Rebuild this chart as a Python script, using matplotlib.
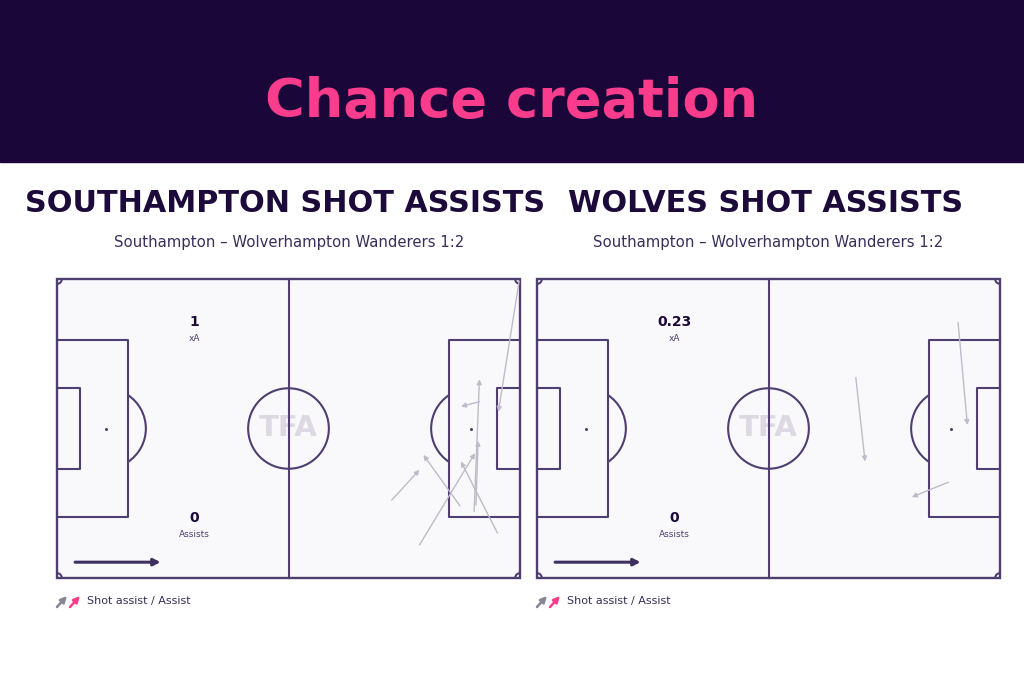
import numpy as np
import matplotlib.pyplot as plt
from matplotlib.patches import Rectangle, Arc, Circle, FancyArrowPatch

# Pass data (pitch metres, 105 x 68, attacking left -> right)
home_x0 = [104.8, 95.8, 94.6, 95.0, 82.2, 75.9, 91.4, 99.9]
home_y0 = [67.5, 40.1, 15.1, 16.6, 7.5, 17.7, 16.4, 10.2]
home_x1 = [100.1, 91.6, 95.8, 95.5, 94.8, 82.2, 83.1, 91.6]
home_y1 = [37.8, 39.0, 45.2, 31.2, 28.4, 24.6, 28.0, 26.5]

away_x0 = [72.3, 95.5, 93.3]
away_y0 = [45.6, 58.1, 21.8]
away_x1 = [74.4, 97.6, 85.0]
away_y1 = [26.5, 34.8, 18.4]

teams = ['SOUTHAMPTON SHOT ASSISTS', 'WOLVES SHOT ASSISTS']
match = 'Southampton – Wolverhampton Wanderers 1:2'
xa = ['1', '0.23']
assists = ['0', '0']

W, H = 1024, 683
dark = '#1b0639'
pink = '#f93d8c'
line_c = '#4e3f70'
pass_c = '#bfbbca'
txt = '#1c0a3a'

fig = plt.figure(figsize=(W / 100, H / 100), dpi=100)
fig.patch.set_facecolor('white')

# header band
fig.patches.append(Rectangle((0, (H - 162) / H), 1, 162 / H, transform=fig.transFigure,
                             color=dark, zorder=0))
fig.text(512 / W, 1 - 102 / H, 'Chance creation', color=pink, fontsize=39,
         fontweight='bold', ha='center', va='center')


def draw_pitch(ax):
    L, Wd = 105, 68
    lw = 1.5
    kw = dict(color=line_c, lw=lw, clip_on=False, zorder=2)
    ax.add_patch(Rectangle((0, 0), L, Wd, facecolor='#f9f9fb', edgecolor=line_c, lw=1.7,
                           clip_on=False, zorder=1))
    ax.plot([L / 2, L / 2], [0, Wd], **kw)
    ax.add_patch(Circle((L / 2, Wd / 2), 9.15, fill=False, ec=line_c, lw=lw, zorder=2))
    for side in [0, 1]:
        x0 = 0 if side == 0 else L
        s = 1 if side == 0 else -1
        ax.plot([x0, x0 + s * 16.1, x0 + s * 16.1, x0], [Wd / 2 - 20.16, Wd / 2 - 20.16,
                Wd / 2 + 20.16, Wd / 2 + 20.16], **kw)
        ax.plot([x0, x0 + s * 5.2, x0 + s * 5.2, x0], [Wd / 2 - 9.16, Wd / 2 - 9.16,
                Wd / 2 + 9.16, Wd / 2 + 9.16], **kw)
        spot = x0 + s * 11
        ax.plot(spot, Wd / 2, 'o', color=line_c, ms=1.2, zorder=2)
        a = np.degrees(np.arccos(5.1 / 9.15))
        if side == 0:
            ax.add_patch(Arc((spot, Wd / 2), 18.3, 18.3, theta1=-a, theta2=a, color=line_c, lw=lw, zorder=2))
        else:
            ax.add_patch(Arc((spot, Wd / 2), 18.3, 18.3, theta1=180 - a, theta2=180 + a, color=line_c, lw=lw, zorder=2))
    for cx, cy, t1 in [(0, 0, 0), (L, 0, 90), (L, Wd, 180), (0, Wd, 270)]:
        ax.add_patch(Arc((cx, cy), 2.2, 2.2, theta1=t1, theta2=t1 + 90, color=line_c, lw=lw, zorder=2))
    ax.text(L / 2, Wd / 2, 'TFA', color='#dcd9e2', fontsize=21, fontweight='bold',
            ha='center', va='center', zorder=1.5)
    ax.set_xlim(0, L)
    ax.set_ylim(0, Wd)
    ax.axis('off')


lefts = [57, 537]
centres = [289, 768]
title_x = [25, 568]
passes = [(home_x0, home_y0, home_x1, home_y1), (away_x0, away_y0, away_x1, away_y1)]

for i in range(2):
    ax = fig.add_axes([lefts[i] / W, (H - 578) / H, 463 / W, 299 / H])
    draw_pitch(ax)
    x0, y0, x1, y1 = passes[i]
    for a, b, c, d in zip(x0, y0, x1, y1):
        ax.annotate('', xy=(c, d), xytext=(a, b),
                    arrowprops=dict(arrowstyle='-|>', color=pass_c, lw=1.0,
                                    mutation_scale=7, shrinkA=0, shrinkB=0), zorder=3)
    ax.text(31.1, 58.2, xa[i], color=txt, fontsize=10, fontweight='bold', ha='center', va='center')
    ax.text(31.1, 54.4, 'xA', color='#4e3f70', fontsize=6.5, ha='center', va='center')
    ax.text(31.1, 13.6, assists[i], color=txt, fontsize=10, fontweight='bold', ha='center', va='center')
    ax.text(31.1, 9.8, 'Assists', color='#4e3f70', fontsize=6.5, ha='center', va='center')
    ax.annotate('', xy=(23.5, 3.6), xytext=(4.1, 3.6),
                arrowprops=dict(arrowstyle='-|>', color='#3e2f62', lw=2.2,
                                mutation_scale=10, shrinkA=0, shrinkB=0))

    fig.text(title_x[i] / W, 1 - 203 / H, teams[i], color=txt, fontsize=21.8,
             fontweight='bold', ha='left', va='center')
    fig.text(centres[i] / W, 1 - 242 / H, match, color='#3a2d5a', fontsize=10.7,
             ha='center', va='center')

    # legend
    lx = lefts[i]
    fig.add_artist(FancyArrowPatch(
        (lx / W, 1 - 607 / H), ((lx + 10) / W, 1 - 596 / H), transform=fig.transFigure,
        arrowstyle='-|>', mutation_scale=9, color='#8a8595', lw=1.8, shrinkA=0, shrinkB=0))
    fig.add_artist(FancyArrowPatch(
        ((lx + 13) / W, 1 - 607 / H), ((lx + 23) / W, 1 - 596 / H), transform=fig.transFigure,
        arrowstyle='-|>', mutation_scale=9, color=pink, lw=1.8, shrinkA=0, shrinkB=0))
    fig.text((lx + 30) / W, 1 - 601 / H, 'Shot assist / Assist', color='#3a2d5a',
             fontsize=8, ha='left', va='center')

fig.savefig('out.png', dpi=100)
